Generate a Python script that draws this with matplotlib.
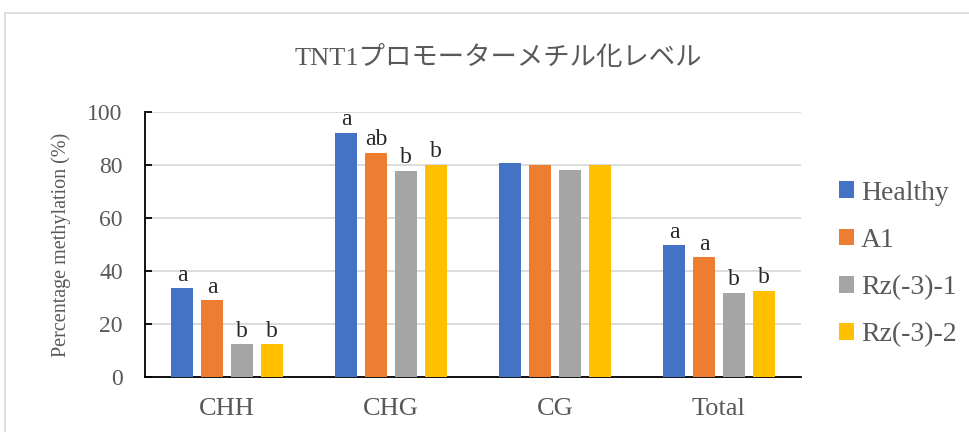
import matplotlib.pyplot as plt
import numpy as np
from matplotlib.patches import Patch, Rectangle

categories = ['CHH', 'CHG', 'CG', 'Total']
groups = ['Healthy', 'A1', 'Rz(-3)-1', 'Rz(-3)-2']
healthy = [33.4, 92.1, 80.9, 49.7]
a1 = [28.9, 84.5, 79.9, 45.1]
rz1 = [12.3, 77.7, 78.0, 31.8]
rz2 = [12.3, 80.0, 79.9, 32.6]
letters_healthy = ['a', 'a', '', 'a']
letters_a1 = ['a', 'ab', '', 'a']
letters_rz1 = ['b', 'b', '', 'b']
letters_rz2 = ['b', 'b', '', 'b']

series = [healthy, a1, rz1, rz2]
letters = [letters_healthy, letters_a1, letters_rz1, letters_rz2]
colors = ['#4472C4', '#ED7D31', '#A5A5A5', '#FFC000']

serif = 'Liberation Serif'
txt = '#595959'

fig = plt.figure(figsize=(9.7, 4.32), dpi=100)
fig.patches.append(Rectangle((5 / 970, -0.1), 1.2, 1 - 13 / 432 + 0.1,
                             transform=fig.transFigure, fill=False,
                             edgecolor='#d9d9d9', linewidth=1.2))
ax = fig.add_axes([145 / 970, 55 / 432, 656 / 970, 265 / 432])

x = np.arange(len(categories))
step = 0.183
width = 0.14
for i, (vals, col) in enumerate(zip(series, colors)):
    pos = x + (i - 1.5) * step
    ax.bar(pos, vals, width, color=col, zorder=3)
    for px, v, lab in zip(pos, vals, letters[i]):
        if lab:
            ax.annotate(lab, (px, v), xytext=(0, 2), textcoords='offset points',
                        ha='center', va='bottom', fontsize=17,
                        family=serif, color='#262626')

ax.set_xlim(-0.5, 3.5)
ax.set_ylim(0, 100)
ax.set_yticks(range(0, 101, 20))
ax.set_xticks(x)
ax.set_xticklabels(categories)
ax.yaxis.grid(True, color='#d9d9d9', linewidth=1.3, zorder=0)
ax.set_axisbelow(True)
for s in ['top', 'right']:
    ax.spines[s].set_visible(False)
ax.spines['left'].set_color('black')
ax.spines['left'].set_linewidth(1.3)
ax.spines['bottom'].set_color('black')
ax.spines['bottom'].set_linewidth(1.3)
ax.tick_params(axis='x', length=0, pad=15)
ax.tick_params(axis='y', direction='in', length=5, width=1.3, pad=16)
for lab in ax.get_yticklabels():
    lab.set_family(serif)
    lab.set_fontsize(17)
    lab.set_color(txt)
for lab in ax.get_xticklabels():
    lab.set_family(serif)
    lab.set_fontsize(19)
    lab.set_color(txt)

ax.set_ylabel('Percentage methylation (%)', family=serif, fontsize=14.5,
              color=txt, labelpad=12)

fig.text(0.514, 0.865, 'TNT1プロモーターメチル化レベル',
         family=[serif, 'Noto Sans CJK JP'], fontsize=19, color=txt,
         ha='center', va='center')

handles = [Patch(facecolor=c, edgecolor='none') for c in colors]
leg = fig.legend(handles, groups, loc='center left',
                 bbox_to_anchor=(814 / 970, (432 - 264) / 432), frameon=False,
                 handlelength=0.55, handleheight=0.55, handletextpad=0.25,
                 labelspacing=0.8,
                 prop={'family': serif, 'size': 20})
for t in leg.get_texts():
    t.set_color(txt)

fig.savefig('out.png', dpi=100)
